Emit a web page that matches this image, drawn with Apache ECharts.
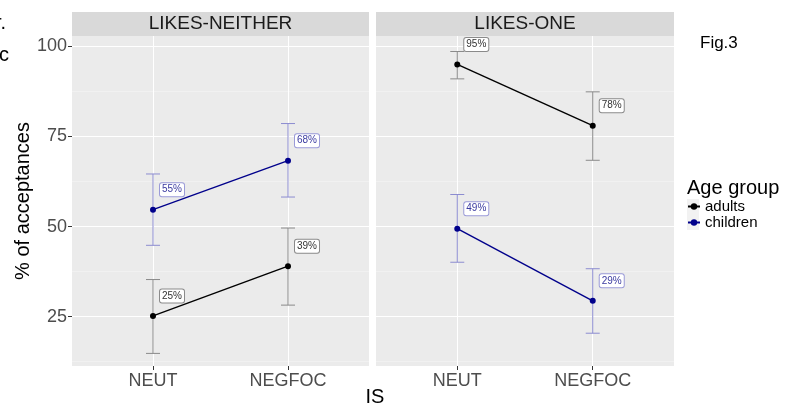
<!DOCTYPE html>
<html><head><meta charset="utf-8">
<script src="https://cdn.jsdelivr.net/npm/echarts@6/dist/echarts.min.js"></script>
<style>html,body{margin:0;padding:0;background:#fff}#c{width:792px;height:408px}</style>
</head><body><div id="c"></div>
<script>
const panels = ['LIKES-NEITHER', 'LIKES-ONE'];
const conditions = ['NEUT', 'NEGFOC'];
const groups = ['adults', 'children'];
const yTicks = [25, 50, 75, 100];
const yMinorTicks = [12.5, 37.5, 62.5, 87.5];
// values per panel: [NEUT, NEGFOC]
const adultsMean = [[25.2, 39.0], [95.0, 78.0]];
const adultsLow = [[14.8, 28.2], [91.0, 68.4]];
const adultsHigh = [[35.3, 49.6], [98.6, 87.4]];
const childrenMean = [[54.7, 68.3], [49.4, 29.4]];
const childrenLow = [[44.8, 58.2], [40.1, 20.4]];
const childrenHigh = [[64.6, 78.6], [58.9, 38.3]];

const FONT = 'Liberation Sans, Arial, sans-serif';
const styles = {
  adults: {line: '#000000', err: '#8a8a8a', text: '#333333', border: '#8a8a8a'},
  children: {line: '#00008B', err: '#8c8cd0', text: '#3a3aa0', border: '#9a9ad8'}
};
const groupData = {
  adults: {mean: adultsMean, low: adultsLow, high: adultsHigh},
  children: {mean: childrenMean, low: childrenLow, high: childrenHigh}
};

const Y_MIN = 11.3, Y_MAX = 102.9;
const grids = [
  {left: 72, top: 36, width: 297, bottom: 42, show: true, backgroundColor: '#EBEBEB', borderWidth: 0},
  {left: 376, top: 36, width: 298, bottom: 42, show: true, backgroundColor: '#EBEBEB', borderWidth: 0}
];

const xAxes = [0, 1].map(i => ({
  type: 'value', gridIndex: i, min: 0.4, max: 2.6,
  axisLine: {show: false},
  axisTick: {show: true, length: 4, lineStyle: {color: '#333'}, customValues: [1, 2]},
  axisLabel: {show: true, customValues: [1, 2], formatter: v => conditions[Math.round(v) - 1] || '',
    fontSize: 18, color: '#4D4D4D', fontFamily: FONT, margin: 6},
  splitLine: {show: true, lineStyle: {color: '#ffffff', width: 1}}
}));

const yAxes = [];
[0, 1].forEach(i => {
  yAxes.push({
    type: 'value', gridIndex: i, min: Y_MIN, max: Y_MAX,
    axisLine: {show: false},
    axisTick: {show: i === 0, length: 4, lineStyle: {color: '#333'}, customValues: yTicks},
    axisLabel: {show: i === 0, customValues: yTicks, fontSize: 18, color: '#4D4D4D', fontFamily: FONT, margin: 5},
    splitLine: {show: true, lineStyle: {color: '#ffffff', width: 1.1}},
    name: i === 0 ? '% of acceptances' : '', nameLocation: 'middle', nameGap: 37,
    nameTextStyle: {fontSize: 20, color: '#000', fontFamily: FONT}
  });
  yAxes.push({
    type: 'value', gridIndex: i, min: Y_MIN, max: Y_MAX,
    axisLine: {show: false},
    axisTick: {show: false, customValues: yMinorTicks},
    axisLabel: {show: false, customValues: yMinorTicks},
    splitLine: {show: true, lineStyle: {color: '#F5F5F5', width: 0.6}}
  });
});

function errRender(color) {
  return function (params, api) {
    const x = api.value(0), lo = api.value(1), hi = api.value(2);
    const a = api.coord([x, lo]), b = api.coord([x, hi]);
    const hw = 7;
    const st = {stroke: color, lineWidth: 1};
    return {type: 'group', children: [
      {type: 'line', shape: {x1: a[0], y1: a[1], x2: b[0], y2: b[1]}, style: st},
      {type: 'line', shape: {x1: a[0] - hw, y1: a[1], x2: a[0] + hw, y2: a[1]}, style: st},
      {type: 'line', shape: {x1: b[0] - hw, y1: b[1], x2: b[0] + hw, y2: b[1]}, style: st}
    ]};
  };
}

const series = [];
[0, 1].forEach(p => {
  groups.forEach(g => {
    const d = groupData[g], s = styles[g];
    series.push({
      type: 'custom', xAxisIndex: p, yAxisIndex: p * 2, z: 2, silent: true,
      renderItem: errRender(s.err),
      data: conditions.map((c, k) => [k + 1, d.low[p][k], d.high[p][k]])
    });
  });
  groups.forEach(g => {
    const d = groupData[g], s = styles[g];
    series.push({
      type: 'line', name: g, xAxisIndex: p, yAxisIndex: p * 2, z: 3,
      symbol: 'circle', symbolSize: 6,
      itemStyle: {color: s.line},
      lineStyle: {color: s.line, width: 1.4},
      data: conditions.map((c, k) => [k + 1, d.mean[p][k]]),
      label: {
        show: true, position: 'right', distance: 0, offset: [4, -20],
        formatter: prm => Math.round(prm.value[1]) + '%',
        fontSize: 10, fontFamily: FONT, color: s.text,
        backgroundColor: '#ffffff', borderColor: s.border, borderWidth: 1, borderRadius: 2,
        padding: [2, 2, 1, 2]
      },
      animation: false
    });
  });
});

const graphic = [];
panels.forEach((name, i) => {
  const g = grids[i];
  graphic.push({type: 'rect', left: g.left, top: 12, shape: {width: g.width, height: 24}, style: {fill: '#D9D9D9'}, z: 1});
  graphic.push({type: 'text', x: g.left + g.width / 2, y: 24, style: {text: name, fontSize: 19, fontFamily: FONT, fill: '#1A1A1A', align: 'center', verticalAlign: 'middle'}, z: 2});
});
graphic.push({type: 'text', x: 375, y: 397, style: {text: 'IS', fontSize: 20, fontFamily: FONT, fill: '#000', align: 'center', verticalAlign: 'middle'}});
graphic.push({type: 'text', x: 700, y: 43, style: {text: 'Fig.3', fontSize: 17, fontFamily: FONT, fill: '#000', verticalAlign: 'middle'}});
graphic.push({type: 'text', x: 687, y: 188, style: {text: 'Age group', fontSize: 20, fontFamily: FONT, fill: '#000', verticalAlign: 'middle'}});
graphic.push({type: 'text', x: -5, y: 33, style: {text: 'r.', fontSize: 20, fontFamily: FONT, fill: '#000', verticalAlign: 'bottom'}});
graphic.push({type: 'text', x: -1, y: 55, style: {text: 'c', fontSize: 20, fontFamily: FONT, fill: '#000', verticalAlign: 'middle'}});
graphic.push({type: 'rect', left: 687, top: 199, shape: {width: 12, height: 31}, style: {fill: '#F2F2F2'}, z: -1});

const chart = echarts.init(document.getElementById('c'), null, {renderer: 'canvas'});
chart.setOption({
  animation: false,
  backgroundColor: '#ffffff',
  grid: grids,
  xAxis: xAxes,
  yAxis: yAxes,
  series: series,
  legend: {
    data: groups, orient: 'vertical', left: 687, top: 199, itemWidth: 12, itemHeight: 8, itemGap: 1,
    textStyle: {fontSize: 15, fontFamily: FONT, color: '#000', lineHeight: 15}, selectedMode: false,
    itemStyle: {}, padding: 0
  },
  graphic: graphic
});
</script></body></html>
